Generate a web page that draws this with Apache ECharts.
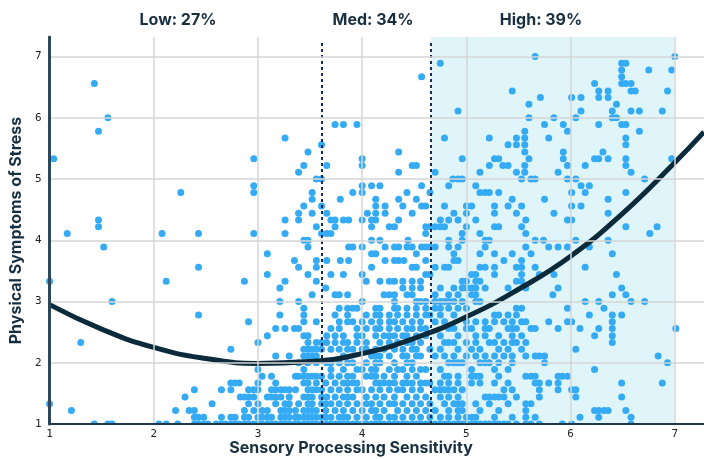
<!DOCTYPE html>
<html>
<head>
<meta charset="utf-8">
<script src="https://cdn.jsdelivr.net/npm/echarts@6/dist/echarts.min.js"></script>
<style>
    html, body {margin: 0; padding: 0; background: #fff;}
    #main {width: 704px; height: 459px;}
</style>
</head>
<body>
<div id="main"></div>
<script>
// each row: [stress score, [sensitivity scores of the people on that row]]
var lowRows = [
    [1.00, [1.43, 1.56, 1.60, 2.05, 2.12, 2.23, 2.39, 2.43, 2.48, 2.52, 2.60, 2.65, 2.69, 2.74, 2.78, 2.82, 2.87, 2.91, 2.96, 3.00, 3.04, 3.09, 3.13, 3.17, 3.22, 3.26, 3.30, 3.35, 3.39, 3.44, 3.48, 3.52, 3.56]],
    [1.11, [2.39, 2.43, 2.48, 2.65, 2.74, 2.78, 2.87, 2.91, 3.00, 3.04, 3.09, 3.13, 3.22, 3.26, 3.30, 3.36, 3.39, 3.44, 3.48, 3.52, 3.56]],
    [1.22, [1.21, 2.21, 2.34, 2.39, 2.87, 2.96, 3.04, 3.09, 3.22, 3.26, 3.30, 3.36, 3.44, 3.48, 3.52, 3.56]],
    [1.33, [1.00, 2.56, 2.91, 3.00, 3.17, 3.26, 3.30, 3.39, 3.48, 3.52]],
    [1.44, [2.30, 2.83, 2.87, 2.91, 2.96, 3.09, 3.13, 3.17, 3.22, 3.30, 3.44, 3.48, 3.52]],
    [1.56, [2.39, 2.65, 2.74, 2.91, 2.96, 3.00, 3.13, 3.17, 3.22, 3.26, 3.30, 3.36, 3.48, 3.52, 3.56]],
    [1.67, [2.74, 2.78, 2.82, 3.00, 3.17, 3.44, 3.48, 3.56]],
    [1.78, [3.04, 3.13, 3.36, 3.39, 3.44, 3.48, 3.52, 3.56]],
    [1.89, [3.00, 3.44]],
    [2.00, [3.39, 3.48, 3.56]],
    [2.11, [3.17, 3.30, 3.44, 3.48, 3.52, 3.56]],
    [2.22, [2.74, 3.44, 3.48, 3.52, 3.56]],
    [2.33, [1.30, 3.00, 3.48, 3.56]],
    [2.44, [3.09, 3.44, 3.48]],
    [2.56, [3.17, 3.26, 3.35, 3.39]],
    [2.67, [2.91, 3.44, 3.56]],
    [2.78, [2.43, 3.21, 3.44]],
    [2.89, [3.44]],
    [3.00, [1.60, 3.21, 3.39]],
    [3.11, [3.52]],
    [3.22, [3.21]],
    [3.33, [1.00, 2.12, 2.87, 3.26, 3.56]],
    [3.44, [3.09, 3.48]],
    [3.56, [2.43, 3.39, 3.56]],
    [3.67, [3.35, 3.56]],
    [3.78, [3.09]],
    [3.89, [1.52, 3.48]],
    [4.00, [3.44, 3.48]],
    [4.11, [1.17, 2.08, 2.43, 2.96, 3.26]],
    [4.22, [1.47, 3.56]],
    [4.33, [1.47, 3.26, 3.39]],
    [4.44, [3.39, 3.52]],
    [4.56, [3.44]],
    [4.67, [3.52]],
    [4.78, [2.26, 2.96, 3.52]],
    [4.89, [2.96]],
    [5.00, [3.56]],
    [5.11, [3.39]],
    [5.22, [3.44]],
    [5.33, [1.04, 2.96]],
    [5.44, [3.48]],
    [5.67, [3.26]],
    [5.78, [1.47]],
    [6.00, [1.56]],
    [6.56, [1.43]]
];

var medRows = [
    [1.00, [3.61, 3.66, 3.70, 3.74, 3.78, 3.82, 3.86, 3.91, 3.95, 4.00, 4.04, 4.09, 4.13, 4.17, 4.21, 4.26, 4.31, 4.34, 4.39, 4.43, 4.48, 4.52, 4.56, 4.61]],
    [1.11, [3.61, 3.65, 3.70, 3.78, 3.82, 3.86, 3.95, 4.04, 4.13, 4.17, 4.26, 4.31, 4.39, 4.48, 4.56]],
    [1.22, [3.65, 3.74, 3.82, 3.91, 4.00, 4.09, 4.13, 4.21, 4.34, 4.43, 4.52, 4.61]],
    [1.33, [3.61, 3.65, 3.70, 3.78, 3.86, 3.95, 4.04, 4.09, 4.17, 4.26, 4.31, 4.39, 4.48, 4.56]],
    [1.44, [3.61, 3.66, 3.74, 3.82, 3.86, 3.91, 4.04, 4.13, 4.21, 4.31, 4.43, 4.52, 4.61]],
    [1.56, [3.61, 3.70, 3.78, 3.86, 3.95, 4.00, 4.09, 4.17, 4.26, 4.34, 4.39, 4.48, 4.56]],
    [1.67, [3.65, 3.74, 3.82, 3.86, 3.91, 3.95, 4.13, 4.17, 4.21, 4.26, 4.31, 4.39, 4.43, 4.48, 4.56, 4.61]],
    [1.78, [3.61, 3.70, 3.78, 3.86, 3.91, 4.04, 4.09, 4.13, 4.21, 4.31, 4.43, 4.52]],
    [1.89, [3.70, 3.82, 3.95, 4.00, 4.09, 4.13, 4.26, 4.34, 4.39, 4.48, 4.56, 4.61]],
    [2.00, [3.66, 3.70, 3.78, 3.86, 3.91, 4.04, 4.13, 4.17, 4.31, 4.43, 4.48]],
    [2.11, [3.82, 4.09, 4.13, 4.17, 4.26, 4.39, 4.43, 4.52, 4.56]],
    [2.22, [3.61, 3.70, 3.78, 3.86, 3.91, 4.00, 4.04, 4.13, 4.21, 4.31, 4.39, 4.48, 4.52]],
    [2.33, [3.61, 3.66, 3.74, 3.82, 3.86, 3.95, 4.04, 4.17, 4.26, 4.34, 4.43, 4.48, 4.56]],
    [2.44, [3.66, 3.74, 3.82, 3.95, 4.00, 4.13, 4.21, 4.26, 4.31, 4.39, 4.43, 4.52, 4.61]],
    [2.56, [3.70, 3.78, 3.95, 4.04, 4.13, 4.17, 4.26, 4.34, 4.43, 4.48, 4.56, 4.61]],
    [2.67, [3.78, 3.86, 3.91, 4.00, 4.09, 4.17, 4.26, 4.31, 4.39, 4.48, 4.56]],
    [2.78, [3.74, 3.86, 4.04, 4.13, 4.17, 4.26, 4.34, 4.43, 4.52, 4.61]],
    [2.89, [3.78, 3.86, 3.91, 3.95, 4.13, 4.17, 4.31, 4.34, 4.43, 4.52, 4.61]],
    [3.00, [4.00, 4.31, 4.52, 4.56, 4.61]],
    [3.11, [3.74, 3.78, 3.86, 4.21, 4.26, 4.31, 4.43, 4.48]],
    [3.22, [3.65, 4.39, 4.48, 4.56]],
    [3.33, [4.04, 4.17, 4.26, 4.31, 4.39, 4.48, 4.56]],
    [3.44, [3.70, 3.82, 4.00, 4.61]],
    [3.56, [4.09, 4.48, 4.52]],
    [3.67, [3.66, 3.79, 3.87, 4.22, 4.31, 4.35, 4.40, 4.61]],
    [3.78, [4.09, 4.13, 4.52]],
    [3.89, [3.87, 3.91, 4.00, 4.22, 4.31, 4.35, 4.43, 4.48, 4.57, 4.61]],
    [4.00, [4.09, 4.17, 4.44]],
    [4.11, [3.61, 3.66, 3.70, 4.61]],
    [4.22, [3.74, 4.09, 4.26, 4.31, 4.61]],
    [4.33, [3.70, 3.74, 3.82, 3.87, 4.00, 4.09, 4.13, 4.35]],
    [4.44, [3.66, 4.05, 4.13, 4.22, 4.48]],
    [4.56, [3.61, 4.13, 4.22, 4.39, 4.57, 4.61]],
    [4.67, [3.79, 4.13, 4.35, 4.52]],
    [4.78, [3.91, 4.00, 4.43]],
    [4.89, [4.00, 4.09, 4.17, 4.57]],
    [5.00, [3.61]],
    [5.11, [4.35]],
    [5.22, [3.66, 4.00, 4.48, 4.52]],
    [5.33, [4.00]],
    [5.44, [4.35]],
    [5.56, [3.61]],
    [5.89, [3.74, 3.82, 3.95]],
    [6.67, [4.57]]
];

var highRows = [
    [1.00, [4.65, 4.70, 4.75, 4.79, 4.83, 4.88, 4.92, 4.96, 5.00, 5.05, 5.09, 5.13, 5.18, 5.22, 5.27, 5.31, 5.36, 5.40, 5.48, 5.57, 5.62, 5.70, 5.92, 6.01, 6.58]],
    [1.11, [4.65, 4.75, 4.83, 4.92, 5.00, 5.05, 5.09, 5.27, 5.44, 5.57, 5.66, 6.09, 6.27, 6.58]],
    [1.22, [4.70, 4.83, 4.92, 4.96, 5.13, 5.31, 5.57, 6.23, 6.27, 6.32, 6.36, 6.53]],
    [1.33, [4.65, 4.79, 4.88, 4.92, 4.96, 5.09, 5.22, 5.40, 5.57, 5.62]],
    [1.44, [4.75, 4.83, 4.92, 5.18, 5.22, 5.27, 5.31, 5.36, 5.48, 5.70, 6.05, 6.49]],
    [1.56, [4.70, 4.75, 4.79, 4.83, 4.88, 4.96, 5.36, 5.44, 5.70, 5.88, 6.01, 6.05]],
    [1.67, [4.65, 4.75, 4.83, 4.92, 5.05, 5.13, 5.27, 5.40, 5.66, 5.70, 5.79, 5.88, 6.49, 6.88]],
    [1.78, [4.79, 4.83, 4.92, 5.05, 5.09, 5.13, 5.31, 5.57, 5.62, 5.66, 5.88, 5.92, 5.97]],
    [1.89, [4.75, 5.05, 5.27, 5.40, 6.23]],
    [2.00, [4.83, 4.88, 4.92, 4.96, 5.13, 5.18, 5.22, 5.31, 5.44, 5.75, 6.93]],
    [2.11, [4.70, 4.79, 4.88, 5.00, 5.09, 5.18, 5.27, 5.36, 5.44, 5.57, 5.66, 5.70, 5.75, 6.84]],
    [2.22, [4.65, 4.75, 4.92, 5.05, 5.13, 5.31, 5.40, 5.53, 6.05]],
    [2.33, [4.79, 4.83, 4.88, 5.00, 5.09, 5.22, 5.27, 5.36, 5.44, 5.48, 5.57, 6.40]],
    [2.44, [4.75, 4.92, 5.09, 5.18, 5.31, 5.44, 5.53, 6.23, 6.40]],
    [2.56, [4.83, 4.88, 5.00, 5.05, 5.18, 5.22, 5.40, 5.44, 5.48, 5.62, 5.66, 5.88, 6.09, 6.27, 6.40, 7.01]],
    [2.67, [4.70, 4.79, 5.00, 5.09, 5.18, 5.27, 5.36, 5.44, 5.53, 5.57, 5.79, 5.97, 6.01, 6.40]],
    [2.78, [4.65, 4.75, 4.88, 5.27, 5.31, 5.40, 5.48, 6.18, 6.40, 6.49]],
    [2.89, [4.70, 4.75, 4.83, 4.92, 5.00, 5.48, 5.53, 5.97, 6.32]],
    [3.00, [4.70, 4.75, 4.79, 4.83, 4.88, 4.96, 5.09, 5.13, 6.14, 6.27, 6.58, 6.71]],
    [3.11, [4.70, 4.83, 4.92, 5.05, 5.09, 5.83, 6.40, 6.53]],
    [3.22, [4.75, 4.88, 4.96, 5.00, 5.05, 5.09, 5.18, 5.40, 5.57, 5.88, 6.49]],
    [3.33, [4.96, 5.00, 5.09, 5.13, 5.48, 5.53]],
    [3.44, [4.65, 5.05, 5.09, 5.27, 5.53, 5.70, 5.84, 6.44]],
    [3.56, [4.70, 4.79, 4.83, 5.13, 5.18, 5.27, 5.48, 5.53, 5.66, 6.14]],
    [3.67, [4.88, 4.92, 5.36, 5.53]],
    [3.78, [4.88, 5.13, 5.27, 5.44, 5.62, 6.40]],
    [3.89, [4.65, 4.70, 4.83, 4.92, 5.18, 5.57, 5.79, 5.88, 5.97, 6.18]],
    [4.00, [4.83, 4.96, 5.18, 5.22, 5.66, 5.74, 6.05, 6.36]],
    [4.11, [4.96, 5.13, 5.57, 6.76]],
    [4.22, [4.65, 4.70, 4.75, 4.79, 5.00, 5.27, 5.31, 5.53, 6.53, 6.83]],
    [4.33, [4.75, 4.83, 4.92, 5.09, 5.57, 5.97, 6.01]],
    [4.44, [4.88, 5.00, 5.27, 5.48, 5.84, 6.36]],
    [4.56, [4.79, 5.00, 5.05, 5.27, 5.40, 5.53, 6.01, 6.10]],
    [4.67, [5.44, 5.75, 6.36]],
    [4.78, [4.65, 5.13, 5.18, 5.22, 5.31, 6.01, 6.14, 6.53]],
    [4.89, [4.83, 5.09, 6.10, 6.18]],
    [5.00, [4.87, 4.92, 4.96, 5.53, 5.62, 5.66, 5.97, 6.05, 6.71]],
    [5.11, [4.70, 5.13, 5.48, 5.56, 5.88, 6.58]],
    [5.22, [5.22, 5.35, 5.40, 5.56, 5.97, 6.14, 6.53]],
    [5.33, [4.96, 5.27, 5.31, 5.60, 5.93, 6.23, 6.27, 6.36, 6.53, 6.97]],
    [5.44, [5.56, 5.93, 6.31]],
    [5.56, [5.40, 5.48, 5.56, 6.53]],
    [5.67, [4.79, 5.22, 5.48, 5.56, 5.79, 6.53]],
    [5.78, [5.56, 5.97, 6.66]],
    [5.89, [5.75, 5.93, 6.27, 6.49, 6.53]],
    [6.00, [5.60, 5.84, 6.05, 6.40, 6.44]],
    [6.11, [4.92, 6.10, 6.40, 6.58, 6.66, 6.88]],
    [6.22, [5.60, 6.44]],
    [6.33, [5.71, 6.01, 6.10, 6.27, 6.36]],
    [6.44, [5.44, 6.27, 6.36, 6.58, 6.62, 6.93]],
    [6.56, [6.23, 6.49, 6.53, 6.58]],
    [6.67, [6.49]],
    [6.78, [6.49, 6.75, 6.97]],
    [6.89, [4.75, 6.49, 6.53]],
    [7.00, [5.66, 7.00]]
];

// fitted curve
var curveX = [1, 1.5, 2, 2.5, 3, 3.5, 4, 4.5, 5, 5.5, 6, 6.5, 7, 7.28];
var curveY = [2.95, 2.55, 2.25, 2.07, 1.99, 2.02, 2.15, 2.40, 2.75, 3.20, 3.74, 4.44, 5.27, 5.77];

var groupLabels = ['Low: 27%', 'Med: 34%', 'High: 39%'];
var groupCuts = [3.61, 4.66];
var xTicks = [1, 2, 3, 4, 5, 6, 7];
var yTicks = [1, 2, 3, 4, 5, 6, 7];

var inkColor = '#172f3f';
var titleFont = '700 16px Inter';

function flatten(rows) {
    var out = [];
    for (var i = 0; i < rows.length; i++) {
        for (var j = 0; j < rows[i][1].length; j++) {
            out.push([rows[i][1][j], rows[i][0]]);
        }
    }
    return out;
}

var points = flatten(lowRows).concat(flatten(medRows), flatten(highRows));
var curve = [];
for (var k = 0; k < curveX.length; k++) {
    curve.push([curveX[k], curveY[k]]);
}

var chart = echarts.init(document.getElementById('main'), null, {renderer: 'canvas'});

var option = {
    animation: false,
    grid: {left: 47, right: 0, top: 37, bottom: 35},
    xAxis: {
        type: 'value',
        min: xTicks[0],
        max: 7.28,
        interval: 1,
        z: 10,
        axisLine: {show: true, onZero: false, lineStyle: {color: '#1f3a4c', width: 2}},
        axisTick: {show: false},
        axisLabel: {
            margin: 5, fontSize: 11, color: '#222',
            fontFamily: 'DejaVu Sans Mono', showMaxLabel: false
        },
        splitLine: {show: true, showMinLine: false, showMaxLine: false, lineStyle: {color: '#d6d6d6', width: 1.5}}
    },
    yAxis: {
        type: 'value',
        min: yTicks[0],
        max: 7.32,
        interval: 1,
        z: 10,
        name: 'Physical Symptoms of Stress',
        nameLocation: 'middle',
        nameGap: 21,
        nameTextStyle: {fontFamily: 'Inter', fontWeight: 700, fontSize: 16, color: inkColor},
        axisLine: {show: true, onZero: false, lineStyle: {color: '#2c4759', width: 3}},
        axisTick: {show: false},
        axisLabel: {
            margin: 8, fontSize: 11, color: '#222',
            fontFamily: 'DejaVu Sans Mono', showMaxLabel: false
        },
        splitLine: {show: true, showMinLine: false, showMaxLine: false, lineStyle: {color: '#d6d6d6', width: 1.5}}
    },
    graphic: {
        elements: [
            // hide the parts of the dots that spill past the axes
            {type: 'rect', z: 5, silent: true, shape: {x: 0, y: 425, width: 704, height: 34}, style: {fill: '#fff'}},
            {type: 'rect', z: 5, silent: true, shape: {x: 0, y: 0, width: 45.5, height: 459}, style: {fill: '#fff'}},
            {type: 'text', z: 20, x: 178, y: 20, style: {text: groupLabels[0], font: titleFont, fill: inkColor, align: 'center', verticalAlign: 'middle'}},
            {type: 'text', z: 20, x: 373, y: 20, style: {text: groupLabels[1], font: titleFont, fill: inkColor, align: 'center', verticalAlign: 'middle'}},
            {type: 'text', z: 20, x: 541, y: 20, style: {text: groupLabels[2], font: titleFont, fill: inkColor, align: 'center', verticalAlign: 'middle'}},
            {type: 'text', z: 20, x: 351, y: 448, style: {text: 'Sensory Processing Sensitivity', font: titleFont, fill: inkColor, align: 'center', verticalAlign: 'middle'}}
        ]
    },
    series: [
        {
            type: 'scatter',
            data: [],
            z: 1,
            silent: true,
            markArea: {
                silent: true,
                itemStyle: {color: 'rgba(203,238,247,0.6)'},
                data: [[{xAxis: groupCuts[1], yAxis: 1}, {xAxis: 7, yAxis: 7.32}]]
            }
        },
        {
            type: 'scatter',
            data: points,
            symbolSize: 7,
            z: 2,
            itemStyle: {color: '#35abf5', opacity: 1}
        },
        {
            type: 'line',
            data: curve,
            smooth: 0.5,
            showSymbol: false,
            symbol: 'none',
            z: 3,
            lineStyle: {color: '#0b2a3a', width: 5}
        },
        {
            type: 'scatter',
            data: [],
            z: 4,
            silent: true,
            markLine: {
                silent: true,
                symbol: 'none',
                label: {show: false},
                lineStyle: {color: '#1a2b52', width: 2, type: [3, 3]},
                data: [
                    [{coord: [groupCuts[0], 1]}, {coord: [groupCuts[0], 7.24]}],
                    [{coord: [groupCuts[1], 1]}, {coord: [groupCuts[1], 7.24]}]
                ]
            }
        }
    ]
};

chart.setOption(option);
</script>
</body>
</html>
